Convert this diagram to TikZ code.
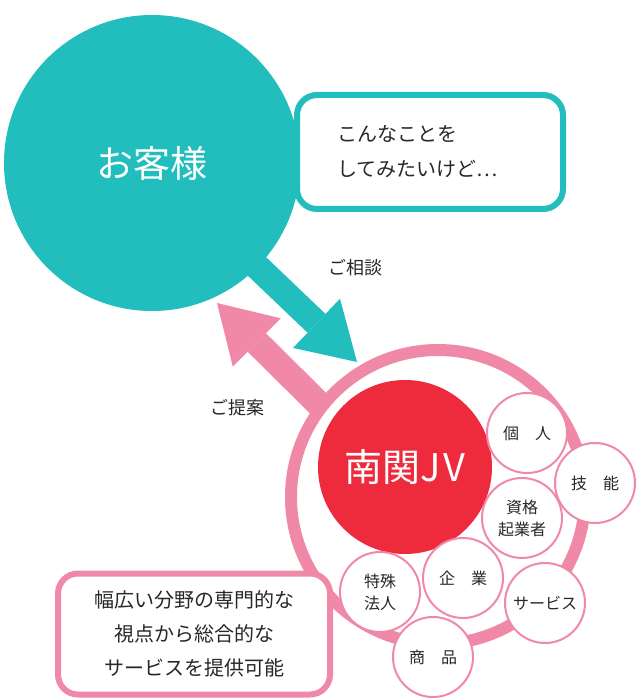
\documentclass[tikz,border=0pt]{standalone}
\usepackage{fontspec}
\setmainfont{Noto Sans CJK JP}
\usetikzlibrary{arrows.meta}
\definecolor{teal}{RGB}{34,189,189}
\definecolor{pinkline}{RGB}{240,137,168}
\definecolor{jvred}{RGB}{237,43,60}
\definecolor{ink}{RGB}{40,40,40}
\tikzset{
  ball/.style   = { circle, inner sep=0pt, text=white },
  bubble/.style = { draw, fill=white, rounded corners=20pt, line width=6pt, inner sep=0pt, text=ink },
  item/.style   = { circle, draw=pinkline, fill=white, line width=2pt, minimum size=80pt, text=ink,
                    inner sep=0pt, align=center, font=\fontsize{16}{22}\selectfont },
  flow/.style   = { line width=26pt },
  tag/.style    = { text=ink, font=\fontsize{18}{22}\selectfont }
}
\begin{document}
\begin{tikzpicture}[x=1pt,y=-1pt]
    \useasboundingbox (0,0) rectangle (636,700);

    \node[ball, fill=teal, minimum size=296pt, font=\fontsize{37}{40}\selectfont] (guest) at (152,163) {お客様};

    \coordinate (askfrom) at (245,255);
    \coordinate (askto)   at (357,362);
    \draw[flow, teal, -{Triangle[length=56pt,width=68pt,line width=0pt]}] (askfrom) -- (askto);

    \node[bubble, draw=teal, minimum width=266pt, minimum height=114pt, text width=186pt,
          inner xsep=40pt, align=left, font=\fontsize{20}{35}\selectfont] (wish) at (430,152)
          {こんなことを\\してみたいけど…};

    \coordinate (offerfrom) at (340,425);
    \coordinate (offerto)   at (217,303);
    \draw[flow, pinkline, -{Triangle[length=56pt,width=68pt,line width=0pt]}] (offerfrom) -- (offerto);

    \node[circle, draw=pinkline, fill=white, line width=12pt, minimum size=294pt, inner sep=0pt] (ring) at (438,497) {};
    \node[ball, fill=jvred, minimum size=174pt, font=\fontsize{38}{40}\selectfont] (jv) at (405,467) {南関J\kern2pt V};

    \node[item] (kojin)   at (527,433) {個　人};
    \node[item] (gino)    at (595,483) {技　能};
    \node[item] (shikaku) at (522,518) {資格\\起業者};
    \node[item] (tokushu) at (380,592) {特殊\\法人};
    \node[item] (kigyo)   at (463,578) {企　業};
    \node[item] (service) at (545,603) {サービス};
    \node[item] (shohin)  at (433,657) {商　品};

    \node[bubble, draw=pinkline, minimum width=272pt, minimum height=121pt, align=center,
          font=\fontsize{20}{34}\selectfont] (merit) at (194,634)
          {幅広い分野の専門的な\\視点から総合的な\\サービスを提供可能};

    \node[tag] (ask)   at (355,268) {ご相談};
    \node[tag] (offer) at (237,408) {ご提案};
\end{tikzpicture}
\end{document}
